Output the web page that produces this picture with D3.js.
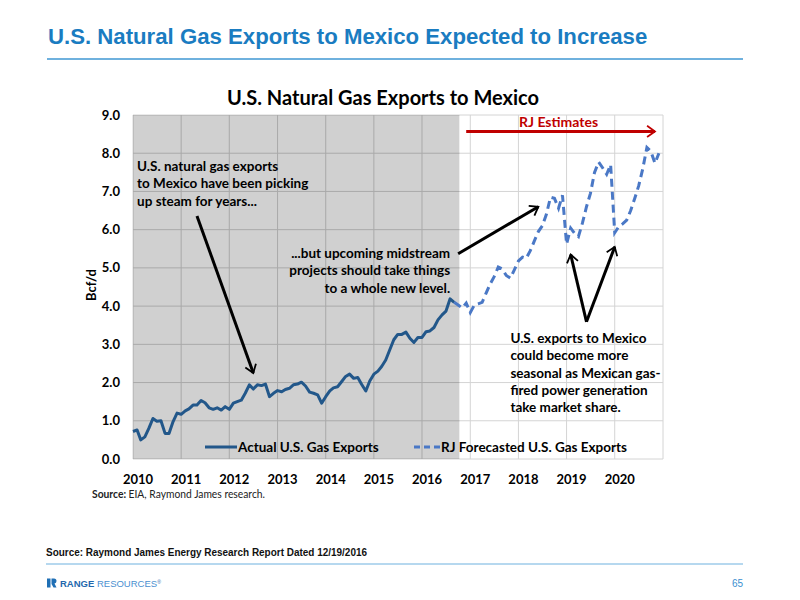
<!DOCTYPE html>
<html>
<head>
<meta charset="utf-8">
<script src="https://cdn.jsdelivr.net/npm/d3@7"></script>
<style>
  body { margin: 0; background: #fff; }
  svg { display: block; }
</style>
</head>
<body>
<script>
// monthly values, Bcf/d
const actualStart = [2010, 0];
const actualValues = [
  0.72, 0.76, 0.50, 0.58, 0.80, 1.06, 0.99, 1.00, 0.67, 0.67, 0.98, 1.20,
  1.17, 1.26, 1.31, 1.41, 1.41, 1.53, 1.47, 1.34, 1.30, 1.34, 1.28, 1.37,
  1.30, 1.46, 1.50, 1.54, 1.72, 1.94, 1.83, 1.94, 1.92, 1.96, 1.63, 1.72,
  1.79, 1.76, 1.82, 1.85, 1.94, 1.96, 2.01, 1.91, 1.75, 1.72, 1.68, 1.46,
  1.63, 1.78, 1.86, 1.89, 2.02, 2.16, 2.22, 2.11, 2.13, 1.95, 1.78, 2.04,
  2.22, 2.30, 2.42, 2.59, 2.85, 3.12, 3.26, 3.26, 3.32, 3.16, 3.05, 3.18,
  3.18, 3.33, 3.35, 3.44, 3.64, 3.77, 3.87, 4.19, 4.10
];
const forecastStart = [2016, 8];
const forecastValues = [
  4.10, 4.03, 3.95, 4.08, 3.83, 4.03, 4.06, 4.10, 4.34, 4.58, 4.77, 5.02,
  4.97, 4.80, 4.73, 4.95, 5.18, 5.28, 5.25, 5.45, 5.70, 5.95, 6.10, 6.40,
  6.85, 6.82, 6.56, 6.90, 5.62, 6.04, 5.91, 5.82, 6.17, 6.60, 6.95, 7.50,
  7.77, 7.62, 7.45, 7.70, 5.92, 6.08, 6.15, 6.25, 6.50, 6.82, 7.15, 7.60,
  8.15, 8.05, 7.74, 8.00
];
const yearTicks = [2010, 2011, 2012, 2013, 2014, 2015, 2016, 2017, 2018, 2019, 2020];
const valueTicks = [0, 1, 2, 3, 4, 5, 6, 7, 8, 9];
const seriesNames = ["Actual U.S. Gas Exports", "RJ Forecasted U.S. Gas Exports"];
const shadeEnd = new Date(2016, 9, 10);

const noteTopLeft = ["U.S. natural gas exports", "to Mexico have been picking", "up steam for years..."];
const noteMiddle = ["...but upcoming midstream", "projects should take things", "to a whole new level."];
const noteRight = ["U.S. exports to Mexico", "could become more", "seasonal as Mexican gas-", "fired power generation", "take market share."];

const toPoints = (start, values) =>
  values.map((v, i) => ({ date: new Date(start[0], start[1] + i, 1), value: v }));
const actual = toPoints(actualStart, actualValues);
const forecast = toPoints(forecastStart, forecastValues);

const W = 800, H = 600;
const plot = { left: 133, right: 663, top: 115, bottom: 459 };
const chartFont = "Lato, 'Open Sans', sans-serif";
const pageFont = "'Liberation Sans', Arial, sans-serif";

const svg = d3.select("body").append("svg").attr("width", W).attr("height", H);

// page header
svg.append("text")
  .attr("x", 48).attr("y", 44)
  .attr("font-family", pageFont).attr("font-weight", "bold").attr("font-size", 22.2)
  .attr("fill", "#1a7cc1")
  .text("U.S. Natural Gas Exports to Mexico Expected to Increase");
svg.append("line")
  .attr("x1", 47).attr("x2", 743).attr("y1", 59).attr("y2", 59)
  .attr("stroke", "#3f97d3").attr("stroke-width", 1.5);

const x = d3.scaleTime()
  .domain([new Date(2010, 0, 1), new Date(2021, 0, 1)])
  .range([plot.left, plot.right]);
const y = d3.scaleLinear().domain([0, 9]).range([plot.bottom, plot.top]);

const defs = svg.append("defs");
defs.append("clipPath").attr("id", "shadeClip")
  .append("rect")
  .attr("x", plot.left).attr("y", plot.top)
  .attr("width", x(shadeEnd) - plot.left).attr("height", plot.bottom - plot.top);

function arrowHead(id, color) {
  defs.append("marker").attr("id", id)
    .attr("viewBox", "-10 -6 12 12").attr("refX", 0).attr("refY", 0)
    .attr("markerWidth", 4.5).attr("markerHeight", 4.5)
    .attr("markerUnits", "strokeWidth").attr("orient", "auto")
    .append("path").attr("d", "M-7,-5 L0,0 L-7,5")
    .attr("fill", "none").attr("stroke", color).attr("stroke-width", 1.6)
    .attr("stroke-linejoin", "miter");
}
arrowHead("headBlack", "#000");
arrowHead("headRed", "#c00000");

// gridlines on white
const grid = svg.append("g");
function drawGrid(g, color) {
  g.selectAll(".h").data(valueTicks).join("line")
    .attr("x1", plot.left).attr("x2", plot.right)
    .attr("y1", d => y(d)).attr("y2", d => y(d))
    .attr("stroke", color).attr("stroke-width", 1);
  g.selectAll(".v").data(yearTicks.concat([2021])).join("line").attr("class", "v")
    .attr("x1", d => x(new Date(d, 0, 1))).attr("x2", d => x(new Date(d, 0, 1)))
    .attr("y1", plot.top).attr("y2", plot.bottom)
    .attr("stroke", color).attr("stroke-width", 1);
}
drawGrid(grid, "#d4d4d4");

// shaded history
svg.append("rect")
  .attr("x", plot.left).attr("y", plot.top)
  .attr("width", x(shadeEnd) - plot.left).attr("height", plot.bottom - plot.top)
  .attr("fill", "#d0d0d0");
drawGrid(svg.append("g").attr("clip-path", "url(#shadeClip)"), "#a9a9a9");

// axes labels
svg.append("g").selectAll("text").data(valueTicks).join("text")
  .attr("x", 120).attr("y", d => y(d) + 4.5)
  .attr("text-anchor", "end")
  .attr("font-family", chartFont).attr("font-weight", "bold").attr("font-size", 13)
  .text(d => d.toFixed(1));
svg.append("g").selectAll("text").data(yearTicks).join("text")
  .attr("x", d => x(new Date(d, 0, 1)) + 5).attr("y", 484)
  .attr("text-anchor", "middle")
  .attr("font-family", chartFont).attr("font-weight", "bold").attr("font-size", 13)
  .text(d => d);
svg.append("text")
  .attr("transform", "translate(96,285) rotate(-90)")
  .attr("text-anchor", "middle")
  .attr("font-family", chartFont).attr("font-size", 13).attr("font-weight", "bold")
  .text("Bcf/d");

svg.append("text")
  .attr("x", 383).attr("y", 105)
  .attr("text-anchor", "middle")
  .attr("font-family", chartFont).attr("font-weight", "bold").attr("font-size", 20)
  .text("U.S. Natural Gas Exports to Mexico");

// lines
const line = d3.line().x(d => x(d.date)).y(d => y(d.value));
svg.append("path").datum(actual)
  .attr("d", line).attr("fill", "none")
  .attr("stroke", "#22578a").attr("stroke-width", 3).attr("stroke-linejoin", "round");
svg.append("path").datum(forecast)
  .attr("d", line).attr("fill", "none")
  .attr("stroke", "#4a78c6").attr("stroke-width", 3)
  .attr("stroke-dasharray", "8,5");

// legend
const legend = svg.append("g").attr("font-family", chartFont)
  .attr("font-weight", "bold").attr("font-size", 13.5);
legend.append("line").attr("x1", 205).attr("x2", 237).attr("y1", 447).attr("y2", 447)
  .attr("stroke", "#22578a").attr("stroke-width", 3);
legend.append("text").attr("x", 238).attr("y", 452).text(seriesNames[0]);
legend.append("line").attr("x1", 414).attr("x2", 440).attr("y1", 447).attr("y2", 447)
  .attr("stroke", "#4a78c6").attr("stroke-width", 3).attr("stroke-dasharray", "6,4");
legend.append("text").attr("x", 441).attr("y", 452).text(seriesNames[1]);

// annotations (anchored in data space)
const at = (yr, mo) => new Date(yr, mo, 1);
function arrow(x1, y1, x2, y2, color, marker) {
  svg.append("line")
    .attr("x1", x1).attr("y1", y1).attr("x2", x2).attr("y2", y2)
    .attr("stroke", color).attr("stroke-width", 3)
    .attr("marker-end", `url(#${marker})`);
}
function note(lines, px, py, anchor) {
  svg.append("text")
    .attr("font-family", chartFont).attr("font-weight", "bold").attr("font-size", 13.5)
    .attr("text-anchor", anchor)
    .selectAll("tspan").data(lines).join("tspan")
    .attr("x", px).attr("y", (d, i) => py + i * 17.3)
    .text(d => d);
}
note(noteTopLeft, x(at(2010, 1.7)), 171, "start");
arrow(x(at(2011, 4.9)), y(6.36), x(at(2012, 6.6)), y(2.25), "#000", "headBlack");

note(noteMiddle, x(at(2016, 7.7)), 258, "end");
arrow(x(at(2016, 9.8)), y(5.37), x(at(2018, 5.5)), y(6.6), "#000", "headBlack");

note(noteRight, x(at(2017, 10.8)), 343, "start");
arrow(x(at(2019, 5.5)), y(3.59), x(at(2019, 1.0)), y(5.35), "#000", "headBlack");
arrow(x(at(2019, 5.5)), y(3.59), x(at(2020, 0.2)), y(5.55), "#000", "headBlack");

arrow(x(at(2016, 11.5)), y(8.57), x(at(2020, 10.2)), y(8.57), "#c00000", "headRed");
svg.append("text")
  .attr("x", x(at(2018, 10.7))).attr("y", 126.5)
  .attr("text-anchor", "middle")
  .attr("font-family", chartFont).attr("font-weight", "bold").attr("font-size", 14)
  .attr("fill", "#c00000")
  .text("RJ Estimates");

// chart source
const src = svg.append("text").attr("x", 92).attr("y", 498)
  .attr("font-family", chartFont)
  .attr("font-size", 10.5).attr("fill", "#222")
  .attr("textLength", 173).attr("lengthAdjust", "spacingAndGlyphs");
src.append("tspan").attr("font-weight", "bold").text("Source: ");
src.append("tspan").text("EIA, Raymond James  research.");

// page footer
svg.append("text")
  .attr("x", 46).attr("y", 556)
  .attr("font-family", pageFont).attr("font-weight", "bold").attr("font-size", 10.5)
  .attr("fill", "#111")
  .attr("textLength", 321).attr("lengthAdjust", "spacingAndGlyphs")
  .text("Source: Raymond James Energy Research Report Dated 12/19/2016");
svg.append("line")
  .attr("x1", 46).attr("x2", 743).attr("y1", 564).attr("y2", 564)
  .attr("stroke", "#6fb1e0").attr("stroke-width", 1.2);

const logo = svg.append("g").attr("transform", "translate(47,578.5)");
logo.append("path")
  .attr("d", "M0,0 H3.5 V9 H0 Z M4.5,0 H7 Q9.5,0 9.5,2.5 Q9.5,4.5 7.5,5 L9.5,9 H6.5 L4.5,5.5 Z")
  .attr("fill", "#1f6fb5");
logo.append("text").attr("x", 13).attr("y", 8.5)
  .attr("font-family", pageFont).attr("font-size", 9.5)
  .attr("fill", "#2468ad")
  .call(t => {
    t.append("tspan").attr("font-weight", "bold").text("RANGE");
    t.append("tspan").attr("fill", "#4a8fd0").text(" RESOURCES");
    t.append("tspan").attr("font-size", 5).attr("dy", -3.5).text("®");
  });
svg.append("text")
  .attr("x", 743).attr("y", 587).attr("text-anchor", "end")
  .attr("font-family", pageFont).attr("font-size", 10).attr("fill", "#3a8fd0")
  .text("65");
</script>
</body>
</html>
